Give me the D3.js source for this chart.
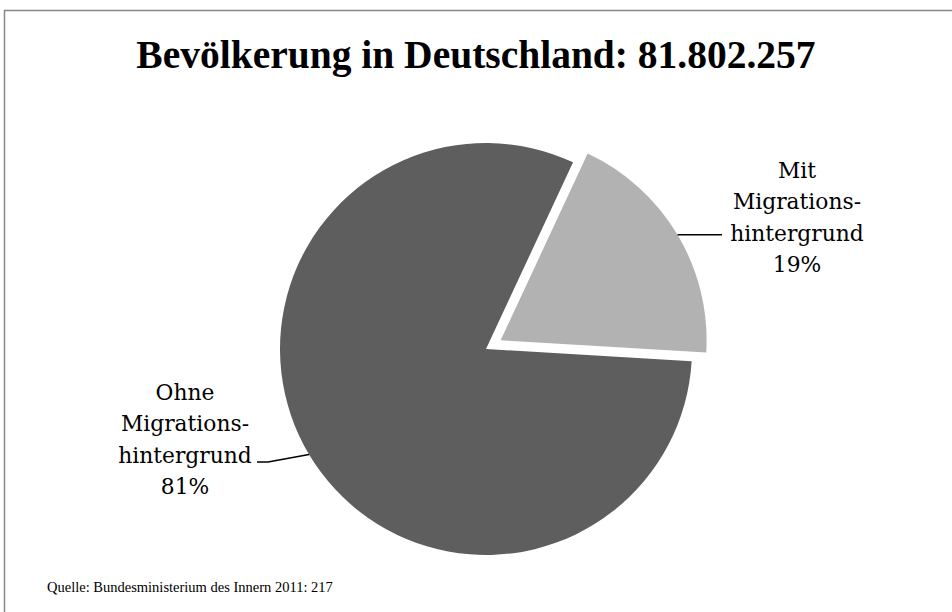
<!DOCTYPE html>
<html>
<head>
<meta charset="utf-8">
<script src="https://cdn.jsdelivr.net/npm/d3@7"></script>
<style>
html,body{margin:0;padding:0;background:#fff;}
svg{display:block;}
</style>
</head>
<body>
<svg id="chart" width="952" height="612"></svg>
<script>
const title = "Bevölkerung in Deutschland: 81.802.257";
const source = "Quelle: Bundesministerium des Innern 2011: 217";
const categories = ["Mit Migrationshintergrund", "Ohne Migrationshintergrund"];
const values = [19, 81];
const labelLines = [["Mit", "Migrations-", "hintergrund", "19%"], ["Ohne", "Migrations-", "hintergrund", "81%"]];
const colors = ["#b2b2b2", "#5e5e5e"];

const svg = d3.select("#chart");

// frame (cropped on right/bottom)
svg.append("rect").attr("x", 4.5).attr("y", 10.5).attr("width", 1000).attr("height", 1000)
  .attr("fill", "#fff").attr("stroke", "#878787").attr("stroke-width", 1.5);

svg.append("text").attr("x", 476).attr("y", 68).attr("text-anchor", "middle")
  .attr("font-family", "Liberation Serif").attr("font-weight", "bold").attr("font-size", 39.5)
  .attr("fill", "#000").text(title);

const cx = 486, cy = 349, R = 206, explodeDist = 17;
const deg = Math.PI / 180;
const pie = d3.pie().sort(null).startAngle(25 * deg).endAngle(25 * deg + 2 * Math.PI);
const arcs = pie(values);
const arc = d3.arc().innerRadius(0).outerRadius(R);
const explode = [explodeDist, 0];

const g = svg.append("g").attr("transform", `translate(${cx},${cy})`);
g.selectAll("path.slice").data(arcs).enter().append("path")
  .attr("class", "slice")
  .attr("transform", (d, i) => {
    const m = (d.startAngle + d.endAngle) / 2;
    return `translate(${Math.sin(m) * explode[i]},${-Math.cos(m) * explode[i]})`;
  })
  .attr("d", arc)
  .attr("fill", (d, i) => colors[i]);

// leader lines
arcs.forEach((d, i) => {
  const m = (d.startAngle + d.endAngle) / 2;
  const ox = Math.sin(m) * explode[i], oy = -Math.cos(m) * explode[i];
  const px = cx + ox + Math.sin(m) * R, py = cy + oy - Math.cos(m) * R;
  let pts;
  if (i === 0) pts = [[px, py], [722, py]];
  else pts = [[px, py], [268, 462], [257, 462]];
  svg.append("path").attr("d", d3.line()(pts)).attr("fill", "none")
    .attr("stroke", "#000").attr("stroke-width", 1.5);
});

// labels
const labelX = [797, 185];
const labelY0 = [178, 400];
const lineStep = 31.3;
labelLines.forEach((lines, i) => {
  const t = svg.append("text").attr("text-anchor", "middle")
    .attr("font-family", "DejaVu Serif").attr("font-size", 21.8).attr("fill", "#000");
  lines.forEach((s, j) => {
    t.append("tspan").attr("x", labelX[i]).attr("y", labelY0[i] + j * lineStep).text(s);
  });
});

svg.append("text").attr("x", 47).attr("y", 592)
  .attr("font-family", "Liberation Serif").attr("font-size", 14.5).attr("fill", "#000").text(source);
</script>
</body>
</html>
